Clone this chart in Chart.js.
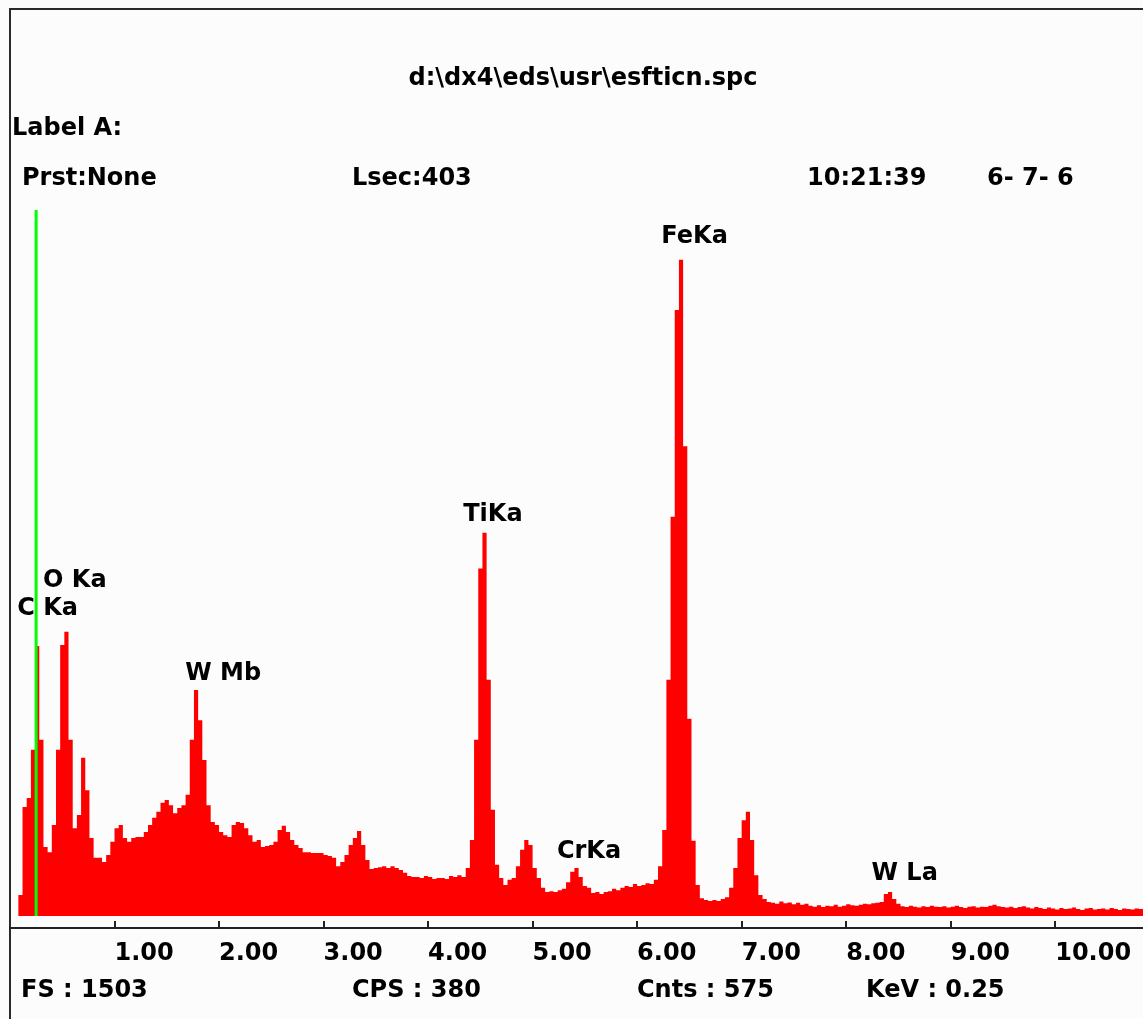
<!DOCTYPE html>
<html>
<head>
<meta charset="utf-8">
<title>esfticn.spc</title>
<script src="https://cdn.jsdelivr.net/npm/chart.js@4.4.1/dist/chart.umd.min.js"></script>
<style>
  html, body { margin: 0; padding: 0; background: #fcfcfc; }
  canvas { display: block; }
</style>
</head>
<body>
<canvas id="spectrumChart" width="1143" height="1019"></canvas>
<script>
// EDS spectrum, 0.04 keV per channel, counts per channel
const channelKeV = 0.04;
const counts = [
  0, 0, 45, 232, 251, 354, 575, 375, 147, 136,
  194, 354, 577, 605, 375, 187, 215, 337, 268, 166,
  124, 124, 115, 130, 158, 187, 194, 166, 158, 166,
  168, 168, 179, 194, 209, 222, 241, 247, 236, 219,
  230, 236, 258, 375, 481, 417, 332, 236, 200, 194,
  179, 172, 168, 194, 200, 198, 187, 172, 158, 162,
  147, 149, 151, 158, 183, 192, 179, 162, 151, 145,
  136, 136, 134, 134, 134, 130, 128, 124, 106, 115,
  130, 151, 166, 181, 151, 119, 100, 102, 104, 106,
  102, 106, 102, 98, 92, 85, 83, 83, 81, 85,
  83, 79, 81, 81, 79, 85, 83, 87, 83, 102,
  162, 375, 740, 816, 503, 226, 109, 81, 66, 77,
  81, 106, 141, 162, 151, 102, 81, 60, 51, 53,
  51, 55, 58, 72, 94, 102, 83, 64, 60, 49,
  51, 47, 51, 53, 58, 55, 60, 64, 62, 68,
  64, 66, 70, 68, 77, 106, 183, 503, 850, 1290,
  1397, 1000, 420, 160, 66, 38, 34, 32, 34, 32,
  36, 40, 60, 102, 166, 204, 222, 162, 87, 45,
  36, 30, 28, 26, 31, 27, 29, 25, 28, 24,
  26, 22, 20, 23, 19, 22, 21, 24, 20, 22,
  25, 23, 22, 24, 26, 25, 27, 28, 30, 47,
  51, 36, 26, 21, 19, 22, 20, 18, 21, 19,
  22, 20, 19, 21, 18, 20, 22, 19, 17, 20,
  21, 18, 20, 19, 22, 24, 21, 19, 18, 20,
  17, 19, 21, 18, 16, 19, 17, 15, 18, 16,
  14, 17, 15, 16, 18, 15, 13, 16, 17, 14,
  15, 16, 14, 17, 15, 13, 16, 15, 14, 16,
  15
];
const energies = counts.map((c, i) => +(i * channelKeV).toFixed(2));

const fullScale = 1503;
const keVMax = 10.84;
const cursorKeV = 0.25;

const specFile = "d:\\dx4\\eds\\usr\\esfticn.spc";
const labelLine = "Label A:";
const headerRow = ["Prst:None", "Lsec:403", "10:21:39", "6- 7- 6"];
const footerRow = ["FS : 1503", "CPS : 380", "Cnts : 575", "KeV : 0.25"];

// peak identifications, placed in keV / counts
const peakNames = ["C Ka", "O Ka", "W Mb", "TiKa", "CrKa", "FeKa", "W La"];
const peakLabelKeV = [0.36, 0.62, 2.04, 4.62, 5.54, 6.55, 8.56];
const peakLabelCounts = [641, 700, 502, 841, 123, 1433, 77];

const FONT = "bold 24px 'DejaVu Sans'";

const spectrumPanel = {
  id: "spectrumPanel",
  beforeDraw(chart) {
    const { ctx, width, height } = chart;
    ctx.save();
    ctx.fillStyle = "#fcfcfc";
    ctx.fillRect(0, 0, width, height);

    // outer frame
    ctx.strokeStyle = "#2a2a2a";
    ctx.lineWidth = 2;
    ctx.beginPath();
    ctx.moveTo(10, height);
    ctx.lineTo(10, 9);
    ctx.lineTo(width, 9);
    ctx.stroke();

    ctx.fillStyle = "#000";
    ctx.font = FONT;
    ctx.textBaseline = "alphabetic";
    ctx.textAlign = "center";
    ctx.fillText(specFile, 583, 85);

    ctx.textAlign = "left";
    ctx.fillText(labelLine, 12, 135);
    const headX = [22, 352, 807, 987];
    headerRow.forEach((t, i) => ctx.fillText(t, headX[i], 185));
    const footX = [21, 352, 637, 866];
    footerRow.forEach((t, i) => ctx.fillText(t, footX[i], 997));
    ctx.restore();
  },
  afterDatasetsDraw(chart) {
    const { ctx } = chart;
    const xs = chart.scales.x;
    const ys = chart.scales.y;
    ctx.save();

    // cursor marker
    const cx = xs.getPixelForValue(cursorKeV);
    ctx.strokeStyle = "#00ff00";
    ctx.lineWidth = 3;
    ctx.beginPath();
    ctx.moveTo(cx, chart.chartArea.top);
    ctx.lineTo(cx, ys.getPixelForValue(0));
    ctx.stroke();

    ctx.fillStyle = "#000";
    ctx.font = FONT;
    ctx.textAlign = "center";
    ctx.textBaseline = "alphabetic";
    peakNames.forEach((name, i) => {
      ctx.fillText(name, xs.getPixelForValue(peakLabelKeV[i]), ys.getPixelForValue(peakLabelCounts[i]));
    });
    ctx.restore();
  }
};

document.addEventListener("DOMContentLoaded", () => {
  const ctxSpectrum = document.getElementById("spectrumChart");

  const points = energies.map((e, i) => ({ x: e, y: counts[i] }));
  points.push({ x: keVMax, y: counts[counts.length - 1] });

  new Chart(ctxSpectrum, {
    type: "line",
    data: {
      datasets: [{
        data: points,
        stepped: true,
        fill: "origin",
        backgroundColor: "#ff0000",
        borderColor: "rgba(0,0,0,0)",
        borderWidth: 0,
        pointRadius: 0,
      }]
    },
    options: {
      responsive: false,
      animation: false,
      layout: { padding: { top: 210, left: 10, right: 0, bottom: 0 } },
      scales: {
        x: {
          type: "linear",
          min: 0,
          max: keVMax,
          afterFit: (scale) => {
            scale.paddingLeft = 0;
            scale.paddingRight = 0;
            scale.height = 91;
          },
          grid: {
            drawOnChartArea: false,
            drawTicks: true,
            tickLength: -7,
            color: "#222",
            lineWidth: 2,
          },
          border: { display: true, color: "#222", width: 2 },
          ticks: {
            stepSize: 1,
            includeBounds: false,
            autoSkip: false,
            maxRotation: 0,
            align: "start",
            padding: 18,
            color: "#000",
            font: { family: "DejaVu Sans", weight: "bold", size: 24 },
            callback: (v) => (v > 0 ? v.toFixed(2) : null),
          },
        },
        y: {
          display: false,
          min: -25.5,
          max: fullScale,
        },
      },
      plugins: {
        legend: { display: false },
        tooltip: { enabled: false },
      },
    },
    plugins: [spectrumPanel],
  });
});
</script>
</body>
</html>
